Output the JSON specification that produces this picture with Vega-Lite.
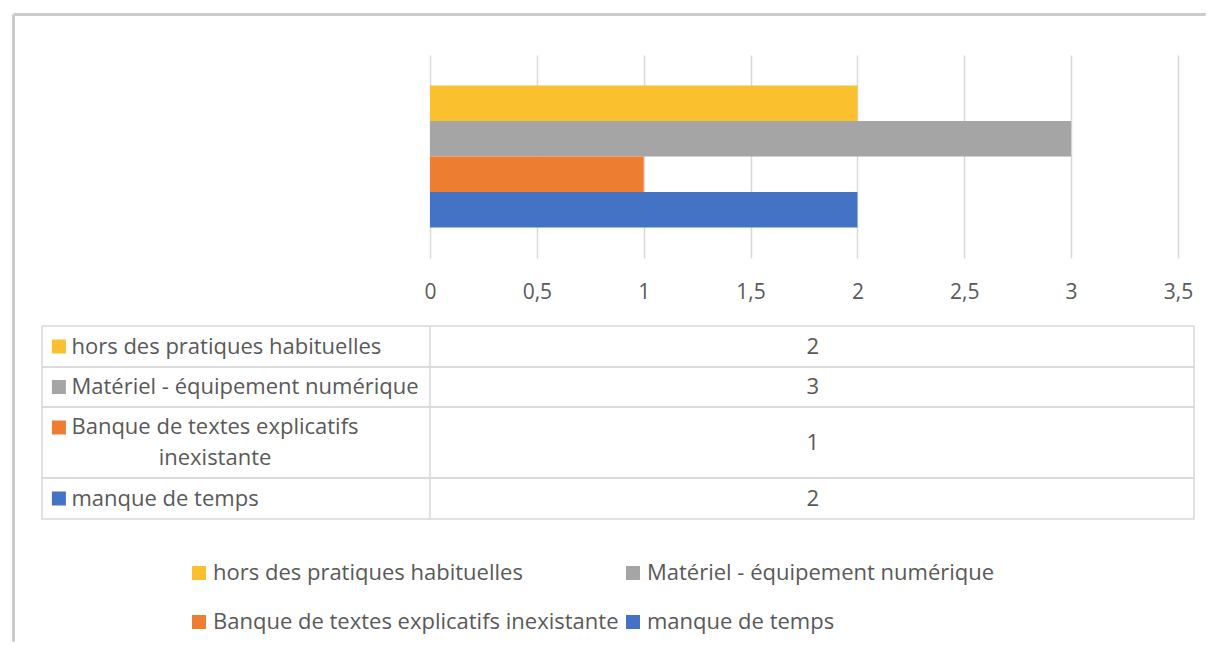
{
  "$schema": "https://vega.github.io/schema/vega-lite/v6.json",
  "padding": {"left": 11, "top": 13, "right": 0, "bottom": 0},
  "background": "white",
  "config": {"font": "Open Sans", "view": {"stroke": null}},
  "data": {"values": [
    {"cat": "hors des pratiques habituelles", "value": 2},
    {"cat": "Matériel - équipement numérique", "value": 3},
    {"cat": "Banque de textes explicatifs inexistante", "value": 1},
    {"cat": "manque de temps", "value": 2}
  ]},
  "bounds": "flush",
  "spacing": 68,
  "resolve": {"scale": {"x": "independent", "y": "independent", "color": "independent"}},
  "vconcat": [
    {
      "width": 1152,
      "height": 203,
      "resolve": {"scale": {"y": "independent"}},
      "layer": [
        {
          "data": {"values": [{}]},
          "mark": {"type": "rule", "color": "#cccccc", "strokeWidth": 3},
          "encoding": {
            "x": {"datum": -1.949, "type": "quantitative", "scale": {"domain": [-1.8156, 3.575], "nice": false, "zero": false}},
            "x2": {"datum": 3.63},
            "y": {"datum": 1.1995, "type": "quantitative", "scale": {"domain": [0, 1], "nice": false, "zero": false}, "axis": null}
          }
        },
        {
          "data": {"values": [{}]},
          "mark": {"type": "rule", "color": "#cccccc", "strokeWidth": 3},
          "encoding": {
            "x": {"datum": -1.949, "type": "quantitative", "scale": {"domain": [-1.8156, 3.575], "nice": false, "zero": false}},
            "y": {"datum": 1.1995, "type": "quantitative", "scale": {"domain": [0, 1], "nice": false, "zero": false}, "axis": null},
            "y2": {"datum": -1.89}
          }
        },
        {
          "mark": {"type": "bar"},
          "encoding": {
            "y": {"field": "cat", "type": "nominal", "sort": ["hors des pratiques habituelles", "Matériel - équipement numérique", "Banque de textes explicatifs inexistante", "manque de temps"], "scale": {"paddingInner": 0, "paddingOuter": 0.86}, "axis": null},
            "x": {"field": "value", "type": "quantitative", "scale": {"domain": [-1.8156, 3.575], "nice": false, "zero": false},
              "axis": {"values": [0, 0.5, 1, 1.5, 2, 2.5, 3, 3.5], "grid": true, "gridColor": "#d9d9d9", "gridWidth": 1.5, "domain": false, "ticks": false, "tickSize": 0, "labelPadding": 23, "labelFontSize": 21, "labelFont": "Open Sans", "labelColor": "#595959", "labelExpr": "replace(format(datum.value, '~g'), '.', ',')", "title": null}},
            "x2": {"datum": 0},
            "color": {"field": "cat", "type": "nominal",
              "scale": {"domain": ["hors des pratiques habituelles", "Matériel - équipement numérique", "Banque de textes explicatifs inexistante", "manque de temps"], "range": ["#FAC02E", "#A5A5A5", "#ED7D31", "#4472C4"]},
              "legend": {"orient": "none", "legendX": 146, "legendY": 507, "columns": 2, "direction": "horizontal", "title": null, "symbolType": "square", "symbolSize": 196, "symbolStrokeWidth": 0, "labelFontSize": 22, "labelFont": "Open Sans", "labelColor": "#595959", "labelOffset": 3, "columnPadding": 3, "rowPadding": 27, "padding": 0, "labelLimit": 0}}
          }
        }
      ]
    },
    {
      "bounds": "flush",
      "spacing": 0,
      "resolve": {"scale": {"x": "independent", "y": "independent", "color": "independent"}},
      "vconcat": [
        {
          "width": 1152, "height": 41,
          "view": {"stroke": "#d9d9d9", "strokeWidth": 1.5},
          "transform": [{"filter": "datum.cat == 'hors des pratiques habituelles'"}],
          "layer": [
            {"mark": {"type": "rule", "color": "#d9d9d9", "strokeWidth": 1.5}, "encoding": {"x": {"datum": 0, "type": "quantitative", "scale": {"domain": [-1.8156, 3.575], "nice": false, "zero": false}, "axis": null}}},
            {"mark": {"type": "square", "size": 196, "opacity": 1}, "encoding": {"x": {"datum": -1.7365, "type": "quantitative"}, "color": {"field": "cat", "type": "nominal", "scale": {"domain": ["hors des pratiques habituelles", "Matériel - équipement numérique", "Banque de textes explicatifs inexistante", "manque de temps"], "range": ["#FAC02E", "#A5A5A5", "#ED7D31", "#4472C4"]}, "legend": null}}},
            {"mark": {"type": "text", "align": "left", "fontSize": 22, "font": "Open Sans", "color": "#595959"}, "encoding": {"x": {"datum": -1.6777, "type": "quantitative"}, "text": {"field": "cat"}}},
            {"mark": {"type": "text", "align": "center", "fontSize": 22, "font": "Open Sans", "color": "#595959"}, "encoding": {"x": {"datum": 1.791, "type": "quantitative"}, "text": {"field": "value"}}}
          ]
        },
        {
          "width": 1152, "height": 40,
          "view": {"stroke": "#d9d9d9", "strokeWidth": 1.5},
          "transform": [{"filter": "datum.cat == 'Matériel - équipement numérique'"}],
          "layer": [
            {"mark": {"type": "rule", "color": "#d9d9d9", "strokeWidth": 1.5}, "encoding": {"x": {"datum": 0, "type": "quantitative", "scale": {"domain": [-1.8156, 3.575], "nice": false, "zero": false}, "axis": null}}},
            {"mark": {"type": "square", "size": 196, "opacity": 1}, "encoding": {"x": {"datum": -1.7365, "type": "quantitative"}, "color": {"field": "cat", "type": "nominal", "scale": {"domain": ["hors des pratiques habituelles", "Matériel - équipement numérique", "Banque de textes explicatifs inexistante", "manque de temps"], "range": ["#FAC02E", "#A5A5A5", "#ED7D31", "#4472C4"]}, "legend": null}}},
            {"mark": {"type": "text", "align": "left", "fontSize": 22, "font": "Open Sans", "color": "#595959"}, "encoding": {"x": {"datum": -1.6777, "type": "quantitative"}, "text": {"field": "cat"}}},
            {"mark": {"type": "text", "align": "center", "fontSize": 22, "font": "Open Sans", "color": "#595959"}, "encoding": {"x": {"datum": 1.791, "type": "quantitative"}, "text": {"field": "value"}}}
          ]
        },
        {
          "width": 1152, "height": 71,
          "view": {"stroke": "#d9d9d9", "strokeWidth": 1.5},
          "transform": [{"filter": "datum.cat == 'Banque de textes explicatifs inexistante'"}],
          "layer": [
            {"mark": {"type": "rule", "color": "#d9d9d9", "strokeWidth": 1.5}, "encoding": {"x": {"datum": 0, "type": "quantitative", "scale": {"domain": [-1.8156, 3.575], "nice": false, "zero": false}, "axis": null}}},
            {"mark": {"type": "square", "size": 196, "opacity": 1, "yOffset": -15}, "encoding": {"x": {"datum": -1.7365, "type": "quantitative"}, "color": {"field": "cat", "type": "nominal", "scale": {"domain": ["hors des pratiques habituelles", "Matériel - équipement numérique", "Banque de textes explicatifs inexistante", "manque de temps"], "range": ["#FAC02E", "#A5A5A5", "#ED7D31", "#4472C4"]}, "legend": null}}},
            {"mark": {"type": "text", "align": "left", "fontSize": 22, "font": "Open Sans", "color": "#595959", "dy": -15.5}, "encoding": {"x": {"datum": -1.6777, "type": "quantitative"}, "text": {"value": "Banque de textes explicatifs"}}},
            {"mark": {"type": "text", "align": "center", "fontSize": 22, "font": "Open Sans", "color": "#595959", "dy": 15.5}, "encoding": {"x": {"datum": -1.006, "type": "quantitative"}, "text": {"value": "inexistante"}}},
            {"mark": {"type": "text", "align": "center", "fontSize": 22, "font": "Open Sans", "color": "#595959"}, "encoding": {"x": {"datum": 1.791, "type": "quantitative"}, "text": {"field": "value"}}}
          ]
        },
        {
          "width": 1152, "height": 41,
          "view": {"stroke": "#d9d9d9", "strokeWidth": 1.5},
          "transform": [{"filter": "datum.cat == 'manque de temps'"}],
          "layer": [
            {"mark": {"type": "rule", "color": "#d9d9d9", "strokeWidth": 1.5}, "encoding": {"x": {"datum": 0, "type": "quantitative", "scale": {"domain": [-1.8156, 3.575], "nice": false, "zero": false}, "axis": null}}},
            {"mark": {"type": "square", "size": 196, "opacity": 1}, "encoding": {"x": {"datum": -1.7365, "type": "quantitative"}, "color": {"field": "cat", "type": "nominal", "scale": {"domain": ["hors des pratiques habituelles", "Matériel - équipement numérique", "Banque de textes explicatifs inexistante", "manque de temps"], "range": ["#FAC02E", "#A5A5A5", "#ED7D31", "#4472C4"]}, "legend": null}}},
            {"mark": {"type": "text", "align": "left", "fontSize": 22, "font": "Open Sans", "color": "#595959"}, "encoding": {"x": {"datum": -1.6777, "type": "quantitative"}, "text": {"field": "cat"}}},
            {"mark": {"type": "text", "align": "center", "fontSize": 22, "font": "Open Sans", "color": "#595959"}, "encoding": {"x": {"datum": 1.791, "type": "quantitative"}, "text": {"field": "value"}}}
          ]
        }
      ]
    }
  ]
}
